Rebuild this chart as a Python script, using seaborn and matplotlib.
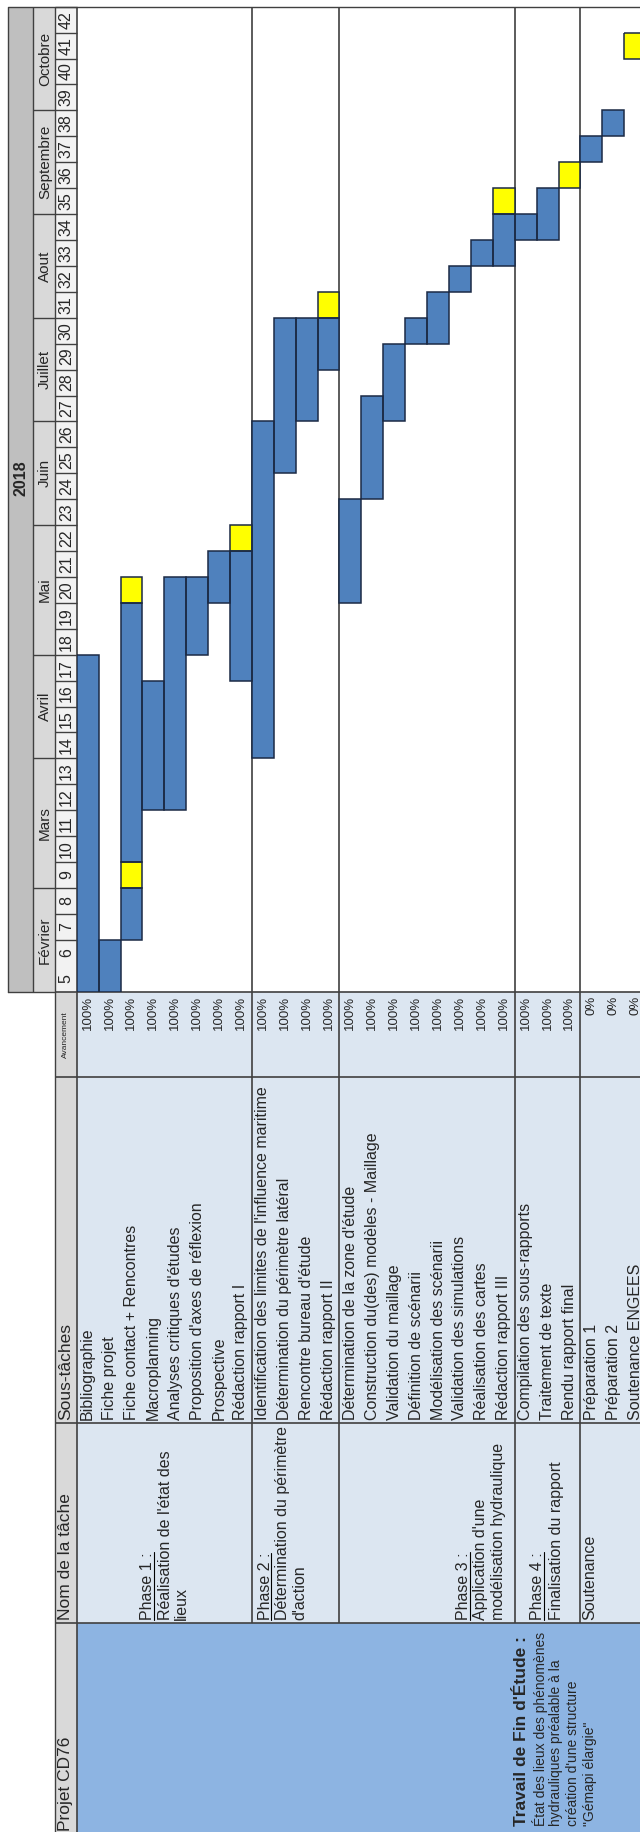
import numpy as np
import pandas as pd
import seaborn as sns
import matplotlib.pyplot as plt
from matplotlib.colors import ListedColormap
from matplotlib.patches import Rectangle

# ----------------------------------------------------------
# Data
# ----------------------------------------------------------

tasks = [
    "Bibliographie", "Fiche projet", "Fiche contact + Rencontres", "Macroplanning",
    "Analyses critiques d'études", "Proposition d'axes de réflexion", "Prospective",
    "Rédaction rapport I",
    "Identification des limites de l'influence maritime",
    "Détermination du périmètre latéral", "Rencontre bureau d'étude", "Rédaction rapport II",
    "Détermination de la zone d'étude", "Construction du(des) modèles - Maillage",
    "Validation du maillage", "Définition de scénarii", "Modélisation des scénarii",
    "Validation des simulations", "Réalisation des cartes", "Rédaction rapport III",
    "Compilation des sous-rapports", "Traitement de texte", "Rendu rapport final",
    "Préparation 1", "Préparation 2", "Soutenance ENGEES",
]
progress = [100] * 23 + [0, 0, 0]

# blue bars (first / last week), None = no bar
bar_start = [5, 5, 7, 12, 12, 18, 20, 17, 14, 25, 27, 29, 20, 24, 27, 30, 30, 32, 33, 33,
             34, 34, None, 37, 38, None]
bar_end = [17, 6, 19, 16, 20, 20, 21, 21, 26, 30, 30, 30, 23, 27, 29, 30, 31, 32, 33, 34,
           34, 35, None, 37, 38, None]

# yellow milestones
milestone_task = [2, 2, 7, 11, 19, 22, 25]
milestone_week = [9, 20, 22, 31, 35, 36, 41]

phase_sizes = [8, 4, 8, 3, 3]
phase_titles = ["Phase 1 :", "Phase 2 :", "Phase 3 :", "Phase 4 :", None]
phase_names = [["Réalisation de l'état des", "lieux"],
               ["Détermination du périmètre", "d'action"],
               ["Application d'une", "modélisation hydraulique"],
               ["Finalisation du rapport"],
               ["Soutenance"]]

weeks = list(range(5, 43))
months = ["Février", "Mars", "Avril", "Mai", "Juin", "Juillet", "Aout", "Septembre", "Octobre"]
month_weeks = [4, 5, 4, 5, 4, 4, 4, 4, 4]

project_lines = ["État des lieux des phénomènes", "hydrauliques préalable à la",
                 "création d'une structure", "\"Gémapi élargie\""]

# ----------------------------------------------------------
# Layout (pixels of the 640 x 1832 picture)
# ----------------------------------------------------------
W, H = 640, 1832
X_BOX, X_MONTH, X_WEEK, X_ROW0 = 8, 33, 55, 76.7
ROW_W = 21.9
Y_TOP, Y_GANTT = 6.7, 991.7
WK_H = (Y_GANTT - Y_TOP) / len(weeks)
Y_AV, Y_ST, Y_NOM = 1076.7, 1423, 1623

LINE = '#404040'
HEAD_LIGHT = '#D9D9D9'
BODY = '#DCE6F1'
PROJ = '#8DB4E2'

sns.set_theme(style="white")
plt.rcParams['font.family'] = ['Liberation Sans', 'DejaVu Sans']

fig = plt.figure(figsize=(W / 100, H / 100), dpi=100)
ax = fig.add_axes([0, 0, 1, 1])
ax.set_xlim(0, W)
ax.set_ylim(H, 0)
ax.axis('off')


def week_top(w):
    return Y_GANTT - (w - 4) * WK_H


n_rows = len(tasks)
X_END = X_ROW0 + n_rows * ROW_W

# ----------------------------------------------------------
# Table backgrounds
# ----------------------------------------------------------
ax.add_patch(Rectangle((X_BOX, Y_TOP), X_MONTH - X_BOX, Y_GANTT - Y_TOP, fc='#BFBFBF', ec='none'))
ax.add_patch(Rectangle((X_MONTH, Y_TOP), X_WEEK - X_MONTH, Y_GANTT - Y_TOP, fc=HEAD_LIGHT, ec='none'))
ax.add_patch(Rectangle((X_WEEK, Y_TOP), X_ROW0 - X_WEEK, Y_GANTT - Y_TOP, fc='#F2F2F2', ec='none'))
ax.add_patch(Rectangle((X_WEEK, Y_GANTT), X_ROW0 - X_WEEK, H - Y_GANTT, fc=HEAD_LIGHT, ec='none'))
ax.add_patch(Rectangle((X_ROW0, Y_GANTT), X_END - X_ROW0, Y_NOM - Y_GANTT, fc=BODY, ec='none'))
ax.add_patch(Rectangle((X_ROW0, Y_NOM), X_END - X_ROW0, H - Y_NOM, fc=PROJ, ec='none'))

# header grid
ax.plot([X_BOX, X_BOX, X_ROW0], [Y_GANTT, Y_TOP, Y_TOP], color=LINE, lw=1)
ax.plot([X_BOX, X_WEEK], [Y_GANTT, Y_GANTT], color=LINE, lw=1)
ax.vlines([X_MONTH, X_WEEK], Y_TOP, Y_GANTT, color=LINE, lw=1)
ax.vlines([X_WEEK], Y_GANTT, H, color=LINE, lw=1)
ax.hlines([week_top(w) for w in weeks[1:]], X_WEEK, X_ROW0, color=LINE, lw=1)
ax.hlines(Y_TOP, X_ROW0, W, color=LINE, lw=1)
ax.vlines(X_ROW0, Y_TOP, H, color=LINE, lw=1.2)

# column separators of the left table part
ax.hlines([Y_GANTT, Y_AV, Y_ST, Y_NOM], X_WEEK, W, color=LINE, lw=1.2)

# phase separators
bounds = np.cumsum(phase_sizes)[:-1]
ax.vlines([X_ROW0 + b * ROW_W for b in bounds], Y_TOP, Y_NOM, color=LINE, lw=1.2)

# year / months / weeks
ax.text((X_BOX + X_MONTH) / 2, 478, "2018", rotation=90, ha='center',
        va='center', fontsize=11.5, fontweight='bold')
w0 = weeks[0]
for name, n in zip(months, month_weeks):
    y_lo = week_top(w0) + WK_H
    y_hi = week_top(w0 + n - 1)
    ax.text((X_MONTH + X_WEEK) / 2 + 1, (y_lo + y_hi) / 2, name, rotation=90,
            ha='center', va='center', fontsize=11)
    if w0 + n - 1 != weeks[-1]:
        ax.hlines(y_hi, X_MONTH, X_WEEK, color=LINE, lw=1)
    w0 += n
for w in weeks:
    ax.text((X_WEEK + X_ROW0) / 2 + 0.5, week_top(w) + WK_H / 2, str(w), rotation=90,
            ha='center', va='center', fontsize=11.5)

# left headers
ax.text((X_WEEK + X_ROW0) / 2, (Y_GANTT + Y_AV) / 2, "Avancement", rotation=90,
        ha='center', va='center', fontsize=6)
ax.text((X_WEEK + X_ROW0) / 2, Y_ST - 3, "Sous-tâches", rotation=90,
        ha='center', va='bottom', fontsize=12.5)
ax.text((X_WEEK + X_ROW0) / 2, Y_NOM - 3, "Nom de la tâche", rotation=90,
        ha='center', va='bottom', fontsize=12.5)
ax.text((X_WEEK + X_ROW0) / 2, H - 1, "Projet CD76", rotation=90,
        ha='center', va='bottom', fontsize=12.5)

# sub-tasks and progress
for j, (name, p) in enumerate(zip(tasks, progress)):
    xc = X_ROW0 + (j + 0.5) * ROW_W
    ax.text(xc, Y_ST - 3, name, rotation=90, ha='center', va='bottom', fontsize=11.5)
    ax.text(xc, Y_GANTT + 4, f"{p}%", rotation=90, ha='center', va='top', fontsize=9.5)

# phase names
phase_x = [[148, 165, 181], [265, 283, 300], [464, 481, 499], [538, 556], [590]]
title_texts = []
for title, lines, xs in zip(phase_titles, phase_names, phase_x):
    k = 0
    if title is not None:
        t = ax.text(xs[0], Y_NOM - 3, title, rotation=90, ha='center', va='bottom', fontsize=11.5)
        title_texts.append(t)
        k = 1
    for line, x in zip(lines, xs[k:]):
        ax.text(x, Y_NOM - 3, line, rotation=90, ha='center', va='bottom', fontsize=11.5)

# project column
ax.text(522, H - 6, "Travail de Fin d'Étude :", rotation=90, ha='center', va='bottom',
        fontsize=12.5, fontweight='bold')
for line, x in zip(project_lines, [540, 556, 573, 590]):
    ax.text(x, H - 6, line, rotation=90, ha='center', va='bottom', fontsize=10)

# ----------------------------------------------------------
# Gantt grid with seaborn
# ----------------------------------------------------------
grid = pd.DataFrame(0, index=weeks[::-1], columns=range(n_rows))
for j, (s, e) in enumerate(zip(bar_start, bar_end)):
    if s is not None:
        grid.loc[(grid.index >= s) & (grid.index <= e), j] = 1
for j, w in zip(milestone_task, milestone_week):
    grid.loc[w, j] = 2

ax_g = fig.add_axes([X_ROW0 / W, 1 - Y_GANTT / H, n_rows * ROW_W / W, (Y_GANTT - Y_TOP) / H])
ax_g.patch.set_alpha(0)
sns.heatmap(grid, mask=grid == 0, cmap=ListedColormap(['#4F81BD', '#FFFF00']),
            vmin=1, vmax=2, cbar=False, linewidths=0, xticklabels=False,
            yticklabels=False, ax=ax_g)
ax_g.axis('off')

# outlines around each run of equal cells
vals = grid.values
for j in range(n_rows):
    i = 0
    while i < len(weeks):
        v = vals[i, j]
        if v == 0:
            i += 1
            continue
        k = i
        while k < len(weeks) and vals[k, j] == v:
            k += 1
        ax_g.add_patch(Rectangle((j, i), 1, k - i, fill=False, ec='#1B2A45', lw=1.1))
        i = k

# underline phase titles
fig.canvas.draw()
inv = ax.transData.inverted()
for t in title_texts:
    bb = t.get_window_extent()
    (x0, y0), (x1, y1) = inv.transform([[bb.x0, bb.y0], [bb.x1, bb.y1]])
    ax.plot([x1 - 2, x1 - 2], [y0, y1], color='black', lw=0.8)

fig.savefig("out.png", dpi=100)
